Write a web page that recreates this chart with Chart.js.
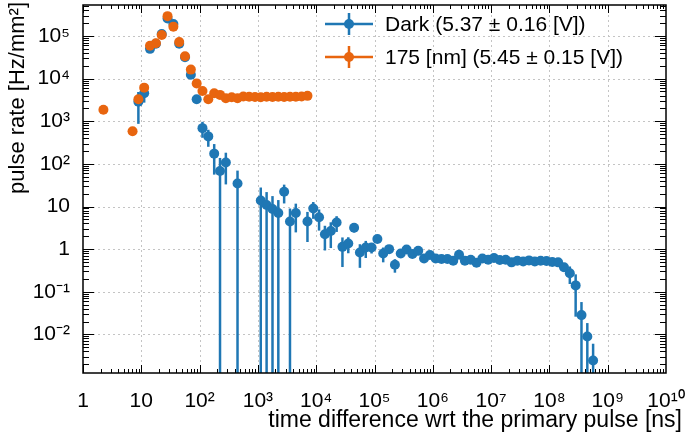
<!DOCTYPE html>
<html>
<head>
<meta charset="utf-8">
<script src="https://cdn.jsdelivr.net/npm/chart.js@4.4.0/dist/chart.umd.min.js"></script>
<style>
  html, body { margin: 0; padding: 0; background: #fff; }
</style>
</head>
<body>
<canvas id="chart" width="685" height="432"></canvas>
<script>
// time difference [ns] and pulse rate [Hz/mm2]
const darkX = [8.91, 11.2, 14.1, 17.8, 22.4, 28.2, 35.5, 44.7, 56.2, 70.8, 89.1, 112, 141, 178, 224, 282,
  447,
  1120, 1410, 1780, 2240, 2820, 3550, 4470,
  7080, 8910,
  1.12e4, 1.41e4, 1.78e4, 2.24e4, 2.82e4, 3.55e4, 4.47e4, 5.62e4, 7.08e4, 8.91e4,
  1.12e5, 1.41e5, 1.78e5, 2.24e5, 2.82e5, 3.55e5, 4.47e5, 5.62e5, 7.08e5, 8.91e5,
  1.12e6, 1.41e6, 1.78e6, 2.24e6, 2.82e6, 3.55e6, 4.47e6, 5.62e6, 7.08e6, 8.91e6,
  1.12e7, 1.41e7, 1.78e7, 2.24e7, 2.82e7, 3.55e7, 4.47e7, 5.62e7, 7.08e7, 8.91e7,
  1.12e8, 1.41e8, 1.78e8, 2.24e8, 2.82e8, 3.55e8, 4.47e8, 5.62e8];
const darkY = [2870, 4540, 50000, 66000, 112000, 258000, 191000, 66000, 31700, 12300, 3300, 690, 442, 174, 68, 108,
  34.6,
  13.9, 10.8, 8.75, 7.07, 22.2, 4.47, 7.07,
  4.47, 8.94,
  5.62, 2.23, 2.66, 4.23, 1.13, 1.35, 3.17, 0.834, 1.09, 1.09,
  1.73, 0.79, 1.0, 0.43, 0.79, 0.98, 0.77, 0.91, 0.60, 0.73,
  0.605, 0.586, 0.586, 0.535, 0.74, 0.535, 0.565, 0.48, 0.605, 0.565,
  0.618, 0.556, 0.565, 0.489, 0.535, 0.515, 0.544, 0.515, 0.535, 0.527,
  0.50, 0.489, 0.374, 0.272, 0.141, 0.0283, 0.0089, 0.00243];
const darkErr = [2000, 1800, 1500, 2000, 3000, 5000, 4000, 2000, 1000, 700, 300, 280, 190, 118, 70, 75,
  35,
  14, 11, 8.8, 7.1, 10.4, 4.5, 4.6,
  3.0, 3.8,
  2.9, 1.3, 1.6, 1.7, 0.75, 0.55, 0.7, 0.47, 0.47, 0.3,
  0.25, 0.3, 0.2, 0.15, 0.12, 0.1, 0.08, 0.06, 0.05, 0.05,
  0.04, 0.04, 0.04, 0.03, 0.04, 0.03, 0.03, 0.03, 0.03, 0.03,
  0.03, 0.03, 0.03, 0.03, 0.03, 0.03, 0.03, 0.03, 0.03, 0.03,
  0.03, 0.04, 0.08, 0.12, 0.115, 0.029, 0.0095, 0.0036];

const uvX = [2.24,
  7.08, 8.91, 11.2, 14.1, 17.8, 22.4, 28.2, 35.5, 44.7, 56.2, 70.8, 89.1, 112, 141, 178, 224, 282, 355, 447, 562,
  708, 891, 1120, 1410, 1780, 2240, 2820, 3550, 4470, 5620, 7080];
const uvY = [1870,
  586, 3300, 6160, 59000, 68000, 106000, 293000, 166000, 72000, 33500, 16300, 7700, 5130, 3300, 4530, 4160, 3480, 3650, 3480, 3800,
  3750, 3700, 3650, 3750, 3700, 3750, 3700, 3750, 3750, 3800, 3950];
const uvErr = [150,
  100, 300, 400, 1500, 1800, 2500, 5000, 3500, 1800, 900, 500, 300, 200, 150, 150, 120, 100, 100, 100, 100,
  100, 100, 100, 100, 100, 100, 100, 100, 100, 100, 100];

const seriesLabels = ['Dark (5.37 \u00b1 0.16 [V])', '175 [nm] (5.45 \u00b1 0.15 [V])'];
const seriesColors = ['#1f77b4', '#e8650f'];

const xTicks = [1, 10, 1e2, 1e3, 1e4, 1e5, 1e6, 1e7, 1e8, 1e9, 1e10];
const yTicks = [1e-2, 1e-1, 1, 10, 1e2, 1e3, 1e4, 1e5];
const xTitle = 'time difference wrt the primary pulse [ns]';
const yTitle = 'pulse rate [Hz/mm\u00b2]';

const FONT = "'Liberation Sans', Arial, Helvetica, sans-serif";
const SUP = { '-': '\u207b', '0': '\u2070', '1': '\u00b9', '2': '\u00b2', '3': '\u00b3', '4': '\u2074',
  '5': '\u2075', '6': '\u2076', '7': '\u2077', '8': '\u2078', '9': '\u2079' };

function decadeLabel(v) {
  const e = Math.round(Math.log10(v));
  if (e === 0) return '1';
  if (e === 1) return '10';
  return '10' + String(e).split('').map(c => SUP[c]).join('');
}

function points(xs, ys) {
  return xs.map((x, i) => ({ x: x, y: ys[i] }));
}

const errors = [darkErr, uvErr];

// grid, error bars, frame with inward ticks, titles and legend
const decor = {
  id: 'decor',
  beforeDatasetsDraw(chart) {
    const { ctx, chartArea: a, scales: { x, y } } = chart;
    ctx.save();
    ctx.strokeStyle = '#c4c4c4';
    ctx.lineWidth = 1;
    ctx.setLineDash([2, 3]);
    xTicks.forEach(v => {
      const px = Math.round(x.getPixelForValue(v)) + 0.5;
      if (px <= a.left + 1 || px >= a.right - 1) return;
      ctx.beginPath(); ctx.moveTo(px, a.top); ctx.lineTo(px, a.bottom); ctx.stroke();
    });
    yTicks.forEach(v => {
      const py = Math.round(y.getPixelForValue(v)) + 0.5;
      ctx.beginPath(); ctx.moveTo(a.left, py); ctx.lineTo(a.right, py); ctx.stroke();
    });
    ctx.restore();
  },
  beforeDatasetDraw(chart, args) {
    const { ctx, chartArea: a, scales: { y } } = chart;
    const i = args.index;
    const ds = chart.data.datasets[i];
    const meta = chart.getDatasetMeta(i);
    ctx.save();
    ctx.beginPath(); ctx.rect(a.left, a.top, a.right - a.left, a.bottom - a.top); ctx.clip();
    ctx.strokeStyle = ds.backgroundColor;
    ctx.lineWidth = 2.5;
    meta.data.forEach((el, j) => {
      const v = ds.data[j].y, e = errors[i][j];
      const top = y.getPixelForValue(v + e);
      const bot = v - e > 0 ? y.getPixelForValue(v - e) : a.bottom;
      ctx.beginPath(); ctx.moveTo(el.x, top); ctx.lineTo(el.x, bot); ctx.stroke();
    });
    ctx.restore();
  },
  afterDatasetsDraw(chart) {
    const { ctx, chartArea: a, scales: { x, y } } = chart;
    ctx.save();
    ctx.strokeStyle = '#000';
    ctx.lineWidth = 1.5;
    ctx.strokeRect(a.left, a.top, a.right - a.left, a.bottom - a.top);

    ctx.lineWidth = 1;
    // x ticks, bottom and top
    for (let d = 0; d < 10; d++) {
      for (let k = 1; k < 10; k++) {
        const v = k * Math.pow(10, d);
        const px = Math.round(x.getPixelForValue(v)) + 0.5;
        const len = k === 1 ? 8 : 4;
        ctx.beginPath();
        ctx.moveTo(px, a.bottom); ctx.lineTo(px, a.bottom - len);
        ctx.moveTo(px, a.top); ctx.lineTo(px, a.top + len);
        ctx.stroke();
      }
    }
    // y ticks, left and right
    for (let d = -3; d < 6; d++) {
      for (let k = 1; k < 10; k++) {
        const v = k * Math.pow(10, d);
        if (v < y.min || v > y.max) continue;
        const py = Math.round(y.getPixelForValue(v)) + 0.5;
        const len = k === 1 ? 11 : 6;
        ctx.beginPath();
        ctx.moveTo(a.left, py); ctx.lineTo(a.left + len, py);
        ctx.moveTo(a.right, py); ctx.lineTo(a.right - len, py);
        ctx.stroke();
      }
    }

    // axis titles
    ctx.fillStyle = '#000';
    ctx.textAlign = 'right';
    ctx.textBaseline = 'alphabetic';
    ctx.font = '23px ' + FONT;
    ctx.fillText(xTitle, 682, 427);
    ctx.save();
    ctx.font = '22px ' + FONT;
    ctx.translate(24, 2);
    ctx.rotate(-Math.PI / 2);
    ctx.fillText(yTitle, 0, 0);
    ctx.restore();

    // legend
    ctx.font = '21px ' + FONT;
    const rows = [24, 57];
    chart.data.datasets.forEach((ds, i) => {
      const ly = rows[i];
      ctx.strokeStyle = ds.backgroundColor;
      ctx.fillStyle = ds.backgroundColor;
      ctx.lineWidth = 2.5;
      ctx.beginPath();
      ctx.moveTo(325, ly); ctx.lineTo(373, ly);
      ctx.moveTo(349, ly - 11); ctx.lineTo(349, ly + 11);
      ctx.stroke();
      ctx.beginPath(); ctx.arc(349, ly, 5, 0, Math.PI * 2); ctx.fill();
      ctx.fillStyle = '#000';
      ctx.textAlign = 'left';
      ctx.textBaseline = 'middle';
      ctx.fillText(ds.label, 385, ly + 1);
    });
    ctx.restore();
  }
};

new Chart(document.getElementById('chart'), {
  type: 'scatter',
  data: {
    datasets: [
      { label: seriesLabels[0], data: points(darkX, darkY), backgroundColor: seriesColors[0],
        pointRadius: 5, pointBorderWidth: 0, order: 2 },
      { label: seriesLabels[1], data: points(uvX, uvY), backgroundColor: seriesColors[1],
        pointRadius: 5, pointBorderWidth: 0, order: 1 }
    ]
  },
  options: {
    responsive: false,
    animation: false,
    layout: { padding: { left: 0, top: 2, right: 19, bottom: 0 } },
    plugins: { legend: { display: false }, tooltip: { enabled: false } },
    scales: {
      x: {
        type: 'logarithmic', min: 1, max: 1e10,
        grid: { display: false, drawTicks: false }, border: { display: false },
        afterBuildTicks: s => { s.ticks = xTicks.map(v => ({ value: v })); },
        afterFit: s => { s.height = 59; s.paddingLeft = 0; s.paddingRight = 0; },
        ticks: { autoSkip: false, maxRotation: 0, padding: 16, color: '#000',
          font: { family: FONT, size: 21 }, callback: v => decadeLabel(v) }
      },
      y: {
        type: 'logarithmic', min: 1.24e-3, max: 5.35e5,
        grid: { display: false, drawTicks: false }, border: { display: false },
        afterBuildTicks: s => { s.ticks = yTicks.map(v => ({ value: v })); },
        afterFit: s => { s.width = 83; s.paddingTop = 0; s.paddingBottom = 0; },
        ticks: { autoSkip: false, padding: 13, color: '#000',
          font: { family: FONT, size: 21 }, callback: v => decadeLabel(v) }
      }
    }
  },
  plugins: [decor]
});
</script>
</body>
</html>
